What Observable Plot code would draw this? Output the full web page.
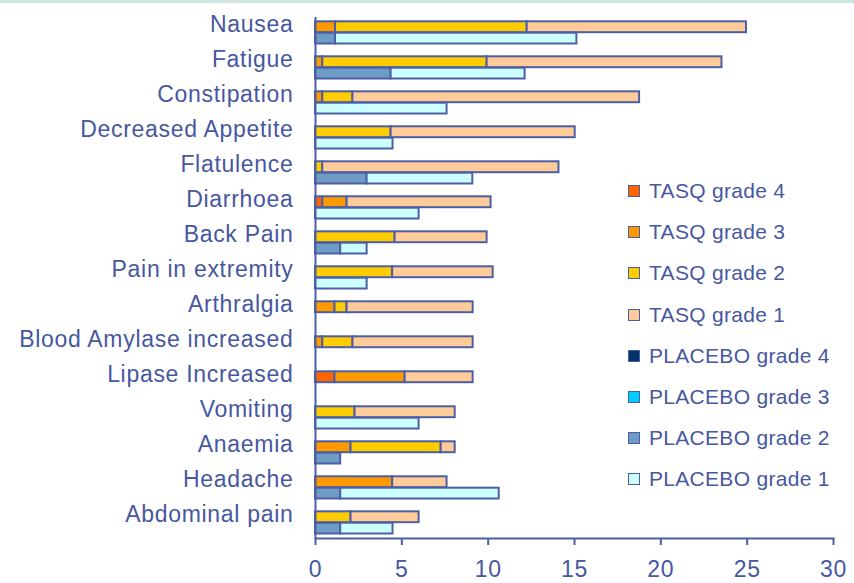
<!DOCTYPE html>
<html>
<head>
<meta charset="utf-8">
<script src="https://cdn.jsdelivr.net/npm/d3@7"></script>
<script src="https://cdn.jsdelivr.net/npm/@observablehq/plot@0.6"></script>
<style>
  html, body { margin: 0; padding: 0; background: #ffffff; }
  #wrap { position: relative; width: 854px; height: 583px; overflow: hidden; font-family: "Liberation Sans", Arial, sans-serif; }
  #topline { position: absolute; left: 0; top: 0; width: 854px; height: 3px; background: #cfe6e0; }
  #legend { position: absolute; left: 0; top: 0; }
  .lrow { position: absolute; display: flex; align-items: center; white-space: nowrap; }
  .sw { width: 10px; height: 10px; border: 1.5px solid #4c5fa6; margin-right: 9px; }
  .lt { font-size: 21px; color: #4757a0; letter-spacing: 0.3px; }
</style>
</head>
<body>
<div id="wrap">
  <div id="chart"></div>
  <div id="topline"></div>
  <div id="legend"></div>
</div>
<script>
// ---- data (percent of patients), top to bottom ----
const categories = ["Nausea","Fatigue","Constipation","Decreased Appetite","Flatulence","Diarrhoea","Back Pain","Pain in extremity","Arthralgia","Blood Amylase increased","Lipase Increased","Vomiting","Anaemia","Headache","Abdominal pain"];

const tasqGrade4    = [0,    0,    0,    0,    0,    0.42, 0,    0,    0,    0,    1.13, 0,    0,    0,    0];
const tasqGrade3    = [1.16, 0.42, 0.42, 0,    0,    1.41, 0,    0,    1.13, 0.42, 4.06, 0,    2.06, 4.47, 0];
const tasqGrade2    = [11.1, 9.52, 1.75, 4.38, 0.42, 0,    4.61, 4.47, 0.70, 1.75, 0,    2.29, 5.22, 0,    2.06];
const tasqGrade1    = [12.7, 13.6, 16.6, 10.66,13.68,8.34, 5.33, 5.82, 7.30, 6.96, 3.94, 5.80, 0.81, 3.15, 3.94];

const placeboGrade4 = [0,0,0,0,0,0,0,0,0,0,0,0,0,0,0];
const placeboGrade3 = [0,0,0,0,0,0,0,0,0,0,0,0,0,0,0];
const placeboGrade2 = [1.16, 4.38, 0,    0,    2.99, 0,    1.46, 0,    0,    0,    0,    0,    1.46, 1.46, 1.46];
const placeboGrade1 = [13.98,7.76, 7.62, 4.49, 6.12, 6.0,  1.53, 2.99, 0,    0,    0,    6.0,  0,    9.18, 3.03];

const seriesNames = ["TASQ grade 4","TASQ grade 3","TASQ grade 2","TASQ grade 1","PLACEBO grade 4","PLACEBO grade 3","PLACEBO grade 2","PLACEBO grade 1"];
const xTicks = [0, 5, 10, 15, 20, 25, 30];

// ---- styles ----
const seriesColors = ["#ff6600","#ff9900","#ffcc00","#ffcc99","#003366","#00ccff","#6f9cc4","#ccffff"];
const edge = "#4c5fa6";
const ink = "#4757a0";
const font = "'Liberation Sans', Arial, sans-serif";

function rows(seriesArrays, names) {
  const out = [];
  categories.forEach((cat, i) => {
    seriesArrays.forEach((arr, k) => {
      if (arr[i] > 0) out.push({cat, series: names[k], value: arr[i]});
    });
  });
  return out;
}
const tasqRows = rows([tasqGrade4, tasqGrade3, tasqGrade2, tasqGrade1], seriesNames.slice(0, 4));
const placeboRows = rows([placeboGrade4, placeboGrade3, placeboGrade2, placeboGrade1], seriesNames.slice(4));

const chart = Plot.plot({
  width: 854,
  height: 583,
  marginLeft: 315,
  marginRight: 21,
  marginTop: 5,
  marginBottom: 45,
  style: {fontFamily: font, fontSize: "23px", color: ink, background: "transparent", letterSpacing: "0.7px"},
  x: {domain: [0, 30], label: null},
  y: {domain: categories, padding: 0, label: null},
  color: {domain: seriesNames, range: seriesColors},
  marks: [
    Plot.barX(tasqRows, Plot.stackX({x: "value", y: "cat", fill: "series", stroke: edge, strokeWidth: 2, insetTop: 12.3, insetBottom: 11.8})),
    Plot.barX(placeboRows, Plot.stackX({x: "value", y: "cat", fill: "series", stroke: edge, strokeWidth: 2, insetTop: 23.7, insetBottom: 0.5})),
    Plot.ruleX([0], {stroke: edge, strokeWidth: 2, insetTop: 12}),
    Plot.frame({anchor: "bottom", stroke: edge, strokeWidth: 2}),
    Plot.axisX({ticks: xTicks, tickSize: 7, tickPadding: 15, stroke: edge, strokeWidth: 2, fill: ink, fontSize: 23, label: null}),
    Plot.axisY({tickSize: 0, tickPadding: 22, fill: ink, fontSize: 23, dy: -2, label: null})
  ]
});
document.getElementById("chart").appendChild(chart);

// legend inside the plot area
const legend = document.getElementById("legend");
seriesNames.forEach((name, i) => {
  const row = document.createElement("div");
  row.className = "lrow";
  row.style.left = "628px";
  row.style.top = (177 + i * 41.2) + "px";
  row.style.height = "28px";
  const sw = document.createElement("div");
  sw.className = "sw";
  sw.style.background = seriesColors[i];
  const t = document.createElement("span");
  t.className = "lt";
  t.textContent = name;
  row.appendChild(sw);
  row.appendChild(t);
  legend.appendChild(row);
});
</script>
</body>
</html>
